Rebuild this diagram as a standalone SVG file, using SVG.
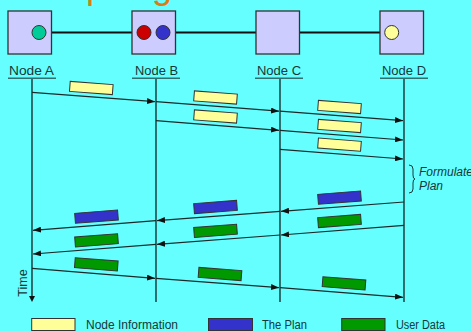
<svg xmlns="http://www.w3.org/2000/svg" width="471" height="331" viewBox="0 0 471 331">
<defs>
<marker id="ah" viewBox="0 0 8 6" refX="8" refY="3" markerWidth="8" markerHeight="6" markerUnits="userSpaceOnUse" orient="auto">
<path d="M0,0 L8,3 L0,6 Z" fill="#111"/>
</marker>
</defs>
<style>
.nbox{fill:#ccccff;stroke:#333;stroke-width:1.3}
.lbl{font-family:"Liberation Sans",Arial,sans-serif;font-size:13px;fill:#163838}
.ul{stroke:#2e7070;stroke-width:1.5}
.life{stroke:#2e7070;stroke-width:2;fill:none}
.msg{stroke:#1a2a2a;stroke-width:1.2;fill:none;marker-end:url(#ah)}
.pk{stroke:#333;stroke-width:1}
.y{fill:#ffff99}
.b{fill:#3333cc}
.g{fill:#009900}
.leg{font-family:"Liberation Sans",Arial,sans-serif;font-size:12.5px;fill:#163838}
.it{font-family:"Liberation Sans",Arial,sans-serif;font-size:12px;font-style:italic;fill:#163838}
</style>
<rect x="0" y="0" width="471" height="331" fill="#66ffff"/>
<g id="title">
<text x="86" y="-2.5" font-family="Liberation Sans,Arial,sans-serif" font-size="36" fill="#e07a10">p</text>
<text x="152" y="-2.5" font-family="Liberation Sans,Arial,sans-serif" font-size="36" fill="#e07a10">g</text>
</g>
<g id="topology">
<line x1="51.5" y1="32.5" x2="132" y2="32.5" stroke="#111" stroke-width="2"/>
<line x1="175.5" y1="32.5" x2="256" y2="32.5" stroke="#111" stroke-width="2"/>
<line x1="299.5" y1="32.5" x2="380" y2="32.5" stroke="#111" stroke-width="2"/>
</g>
<g id="nodeA">
<rect class="nbox" x="8" y="11" width="43.5" height="43"/>
<circle cx="39" cy="32.5" r="7" fill="#00cc99" stroke="#333" stroke-width="1"/>
<text class="lbl" x="9" y="75" textLength="45" lengthAdjust="spacingAndGlyphs">Node A</text>
<line class="ul" x1="8" y1="78.3" x2="56" y2="78.3"/>
<line class="life" x1="32" y1="78.3" x2="32" y2="297"/>
<path d="M29,296 L35,296 L32,302 Z" fill="#111"/>
</g>
<g id="nodeB">
<rect class="nbox" x="132" y="11" width="43.5" height="43"/>
<circle cx="144" cy="32.5" r="7" fill="#cc0000" stroke="#333" stroke-width="1"/>
<circle cx="163" cy="32.5" r="7" fill="#3333cc" stroke="#333" stroke-width="1"/>
<text class="lbl" x="135" y="75" textLength="43" lengthAdjust="spacingAndGlyphs">Node B</text>
<line class="ul" x1="132" y1="78.3" x2="180" y2="78.3"/>
<line class="life" x1="156" y1="78.3" x2="156" y2="302"/>
</g>
<g id="nodeC">
<rect class="nbox" x="256" y="11" width="43.5" height="43"/>
<text class="lbl" x="257" y="75" textLength="44" lengthAdjust="spacingAndGlyphs">Node C</text>
<line class="ul" x1="255" y1="78.3" x2="303" y2="78.3"/>
<line class="life" x1="280" y1="78.3" x2="280" y2="302"/>
</g>
<g id="nodeD">
<rect class="nbox" x="380" y="11" width="43.5" height="43"/>
<circle cx="391.7" cy="32.5" r="7" fill="#ffff99" stroke="#333" stroke-width="1"/>
<text class="lbl" x="382" y="75" textLength="44" lengthAdjust="spacingAndGlyphs">Node D</text>
<line class="ul" x1="380" y1="78.3" x2="428" y2="78.3"/>
<line class="life" x1="404" y1="78.3" x2="404" y2="302"/>
</g>
<g id="connectors">
<line class="msg" x1="32" y1="92.3" x2="155" y2="101.7"/>
<line class="msg" x1="156" y1="101.7" x2="279" y2="111.2"/>
<line class="msg" x1="280" y1="111.2" x2="403" y2="120.7"/>
<line class="msg" x1="156" y1="120.7" x2="279" y2="130.3"/>
<line class="msg" x1="280" y1="130.3" x2="403" y2="140"/>
<line class="msg" x1="280" y1="149.3" x2="403" y2="159"/>
<line class="msg" x1="404" y1="202" x2="281" y2="211.3"/>
<line class="msg" x1="280" y1="211.3" x2="157" y2="220.6"/>
<line class="msg" x1="156" y1="220.6" x2="33" y2="230.3"/>
<line class="msg" x1="404" y1="225.3" x2="281" y2="235"/>
<line class="msg" x1="280" y1="235" x2="157" y2="244.3"/>
<line class="msg" x1="156" y1="244.3" x2="33" y2="254"/>
<line class="msg" x1="32" y1="268.3" x2="155" y2="278.3"/>
<line class="msg" x1="156" y1="278.3" x2="279" y2="287.7"/>
<line class="msg" x1="280" y1="287.7" x2="403" y2="297.3"/>
</g>
<g id="packets">
<rect class="pk y" x="-21.5" y="-5" width="43" height="10" transform="translate(91.3,88) rotate(4.4)"/>
<rect class="pk y" x="-21.5" y="-5" width="43" height="10" transform="translate(215.5,97.5) rotate(4.4)"/>
<rect class="pk y" x="-21.5" y="-5" width="43" height="10" transform="translate(215.5,116.5) rotate(4.4)"/>
<rect class="pk y" x="-21.5" y="-5" width="43" height="10" transform="translate(339.5,107) rotate(4.4)"/>
<rect class="pk y" x="-21.5" y="-5" width="43" height="10" transform="translate(339.5,126) rotate(4.4)"/>
<rect class="pk y" x="-21.5" y="-5" width="43" height="10" transform="translate(339.5,144.7) rotate(4.4)"/>
<rect class="pk b" x="-21.5" y="-5" width="43" height="10" transform="translate(339.5,197.7) rotate(-4.4)"/>
<rect class="pk b" x="-21.5" y="-5" width="43" height="10" transform="translate(215.5,207) rotate(-4.4)"/>
<rect class="pk b" x="-21.5" y="-5" width="43" height="10" transform="translate(96.5,216.7) rotate(-4.4)"/>
<rect class="pk g" x="-21.5" y="-5" width="43" height="10" transform="translate(339.5,221) rotate(-4.4)"/>
<rect class="pk g" x="-21.5" y="-5" width="43" height="10" transform="translate(215.5,230.8) rotate(-4.4)"/>
<rect class="pk g" x="-21.5" y="-5" width="43" height="10" transform="translate(96.5,240.3) rotate(-4.4)"/>
<rect class="pk g" x="-21.5" y="-5" width="43" height="10" transform="translate(96.3,264.3) rotate(4.4)"/>
<rect class="pk g" x="-21.5" y="-5" width="43" height="10" transform="translate(220,274) rotate(4.4)"/>
<rect class="pk g" x="-21.5" y="-5" width="43" height="10" transform="translate(344,283.3) rotate(4.4)"/>
</g>
<g id="formulate">
<path d="M409,165 Q413,165 413,169 L413,175 Q413,179 415,179 Q413,179 413,183 L413,189 Q413,193 409,193" fill="none" stroke="#163838" stroke-width="1"/>
<text class="it" x="419" y="176">Formulate</text>
<text class="it" x="419" y="189.5">Plan</text>
</g>
<g id="time">
<text class="leg" transform="translate(27,283) rotate(-90)" text-anchor="middle">Time</text>
</g>
<g id="legend">
<rect class="pk y" x="31.7" y="318.5" width="43.3" height="12"/>
<text class="leg" x="86" y="329" textLength="92" lengthAdjust="spacingAndGlyphs">Node Information</text>
<rect class="pk b" x="208.5" y="318.5" width="44" height="12"/>
<text class="leg" x="262" y="329" textLength="45" lengthAdjust="spacingAndGlyphs">The Plan</text>
<rect class="pk g" x="341.7" y="318.5" width="43.3" height="12"/>
<text class="leg" x="396" y="329" textLength="49" lengthAdjust="spacingAndGlyphs">User Data</text>
</g>
</svg>
